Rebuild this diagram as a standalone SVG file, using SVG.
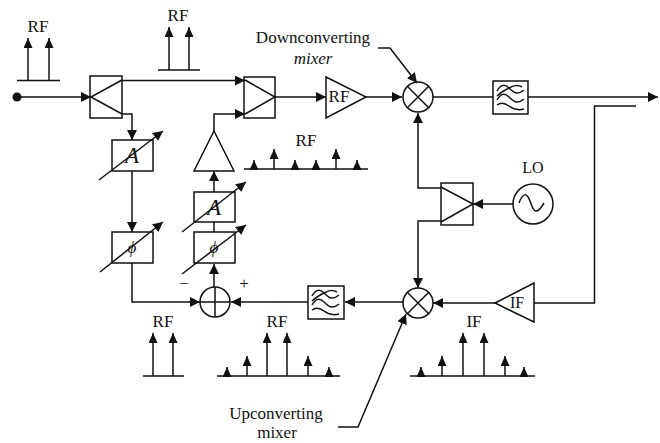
<svg xmlns="http://www.w3.org/2000/svg" width="660" height="443" viewBox="0 0 660 443">
<style>
.l{fill:none;stroke:#111;stroke-width:1.5}
.b{fill:#fff;stroke:#111;stroke-width:1.5}
.t{font-family:"Liberation Serif",serif;font-size:17px;fill:#111;text-anchor:middle}
.i{font-style:italic}
.big{font-size:23px}
.sp{fill:none;stroke:#111;stroke-width:1.5;marker-end:url(#s)}
.c{fill:none;stroke:#111;stroke-width:1.5;marker-end:url(#a)}
</style>
<defs>
<marker id="a" markerUnits="userSpaceOnUse" markerWidth="11" markerHeight="11" refX="10" refY="5" orient="auto"><path d="M0 0L10 5L0 10Z" fill="#111"/></marker>
<marker id="s" markerUnits="userSpaceOnUse" markerWidth="11" markerHeight="11" refX="10" refY="4.5" orient="auto"><path d="M0 0L10 4.5L0 9Z" fill="#111"/></marker>
<path id="w" d="M-14 -6c4 -7 8 -7 12 -3s8 8 15 2M-14 3c4 -7 8 -7 12 -3s8 8 15 2M-14 8c4 -3 8 -2 12 1s8 5 15 3M-14 -1c4 -4 8 -6 12 -8s8 -4 13 -1"/>
</defs>
<g id="coupler-in"><rect class="b" x="90" y="76" width="32" height="42"/><path class="l" d="M122 80L91 97L122 114"/></g>
<g id="coupler-out"><rect class="b" x="244" y="77" width="31" height="41"/><path class="l" d="M245 80L275 97L245 114"/></g>
<g id="atten1"><rect class="b" x="112" y="140" width="41" height="31"/><text class="t i big" x="132" y="163">A</text></g>
<g id="phase1"><rect class="b" x="112" y="232" width="41" height="31"/><text class="t i" x="132" y="253">ϕ</text></g>
<g id="amp-up"><path class="b" d="M214 131L234 171H194Z"/></g>
<g id="atten2"><rect class="b" x="194" y="192" width="41" height="30"/><text class="t i big" x="214" y="215">A</text></g>
<g id="phase2"><rect class="b" x="194" y="232" width="41" height="31"/><text class="t i" x="214" y="253">ϕ</text></g>
<g id="amp-rf"><path class="b" d="M326 77L366 97L326 118Z"/><text class="t" x="339" y="102">RF</text></g>
<g id="mixer-down"><circle class="b" cx="418" cy="97" r="15"/><path class="l" d="M407 86L429 108M429 86L407 108"/></g>
<g id="filter-top"><rect class="b" x="493" y="81" width="35" height="33"/><use class="l" href="#w" x="511" y="97"/></g>
<g id="splitter"><rect class="b" x="441" y="183" width="32" height="42"/><path class="l" d="M441 187L473 204L441 222"/></g>
<g id="lo"><circle class="b" cx="533" cy="204" r="20"/><path class="l" d="M519 203c4 -11 8 -10 11 -2s5 17 14 2"/><text class="t" x="533" y="173" style="font-size:16px">LO</text></g>
<g id="mixer-up"><circle class="b" cx="418" cy="303" r="15"/><path class="l" d="M407 292L429 314M429 292L407 314"/></g>
<g id="amp-if"><path class="b" d="M495 303L534 283V322Z"/><text class="t" x="517" y="308" style="font-size:16px">IF</text></g>
<g id="filter-bot"><rect class="b" x="308" y="286" width="36" height="33"/><use class="l" href="#w" x="326" y="302"/></g>
<g id="summer"><circle class="b" cx="215" cy="302" r="15"/><path class="l" d="M200 302H230M215 287V317"/><text class="t" x="184" y="289">−</text><text class="t" x="244" y="289">+</text></g>
<g id="connectors">
<path class="c" d="M17 97H91"/>
<path class="c" d="M122 80.500H245"/>
<path class="c" d="M122 114H132V140"/>
<path class="c" d="M132 171V232"/>
<path class="c" d="M132 263V302H200"/>
<path class="c" d="M214 287V264"/>
<path class="l" d="M214 222V232"/>
<path class="c" d="M214 192V171"/>
<path class="c" d="M214 131V114H245"/>
<path class="c" d="M275 97H326"/>
<path class="c" d="M366 97H402"/>
<path class="l" d="M433 97H493"/>
<path class="c" d="M528 97H658"/>
<path class="l" d="M636 106H594.500V303H534"/>
<path class="c" d="M441 188H418V113"/>
<path class="c" d="M513 204H473"/>
<path class="c" d="M441 221H418V288"/>
<path class="c" d="M495 303H433"/>
<path class="c" d="M403 302H345"/>
<path class="c" d="M308 302H231"/>
<path class="c" d="M378 48H390L417 83"/>
<path class="c" d="M338 427H358L406 314"/>
<path class="c" d="M99 180L163 131"/>
<path class="c" d="M100 272L163 222"/>
<path class="c" d="M182 232L246 182"/>
<path class="c" d="M182 274L246 225"/>
</g>
<g id="spectra">
<path class="l" d="M17 80.500H60M158 70H200M244 169H368M143 376H184M217 376H340M410 376H535"/>
<path class="sp" d="M28 80V38"/><path class="sp" d="M49 80V38"/>
<path class="sp" d="M169 70V27"/><path class="sp" d="M189 70V27"/>
<path class="sp" d="M254 169V160"/><path class="sp" d="M274 169V149"/><path class="sp" d="M295 169V160"/><path class="sp" d="M316 169V160"/><path class="sp" d="M336 169V149"/><path class="sp" d="M357 169V160"/>
<path class="sp" d="M153 376V333"/><path class="sp" d="M173 376V333"/>
<path class="sp" d="M227 376V367"/><path class="sp" d="M247 376V356"/><path class="sp" d="M267 376V333"/><path class="sp" d="M287 376V333"/><path class="sp" d="M308 376V356"/><path class="sp" d="M329 376V367"/>
<path class="sp" d="M421 376V367"/><path class="sp" d="M442 376V356"/><path class="sp" d="M463 376V333"/><path class="sp" d="M484 376V333"/><path class="sp" d="M505 376V356"/><path class="sp" d="M524 376V367"/>
</g>
<g id="labels">
<text class="t" x="38" y="32">RF</text><text class="t" x="178" y="21">RF</text><text class="t" x="306" y="146">RF</text><text class="t" x="163" y="327">RF</text><text class="t" x="277" y="327">RF</text><text class="t" x="474" y="327">IF</text>
<text class="t" x="313" y="43">Downconverting</text><text class="t i" x="313" y="64">mixer</text>
<text class="t" x="276" y="419">Upconverting</text><text class="t" x="277" y="438">mixer</text>
</g>
<circle id="input" cx="17" cy="97" r="4.500" fill="#111"/>
</svg>
